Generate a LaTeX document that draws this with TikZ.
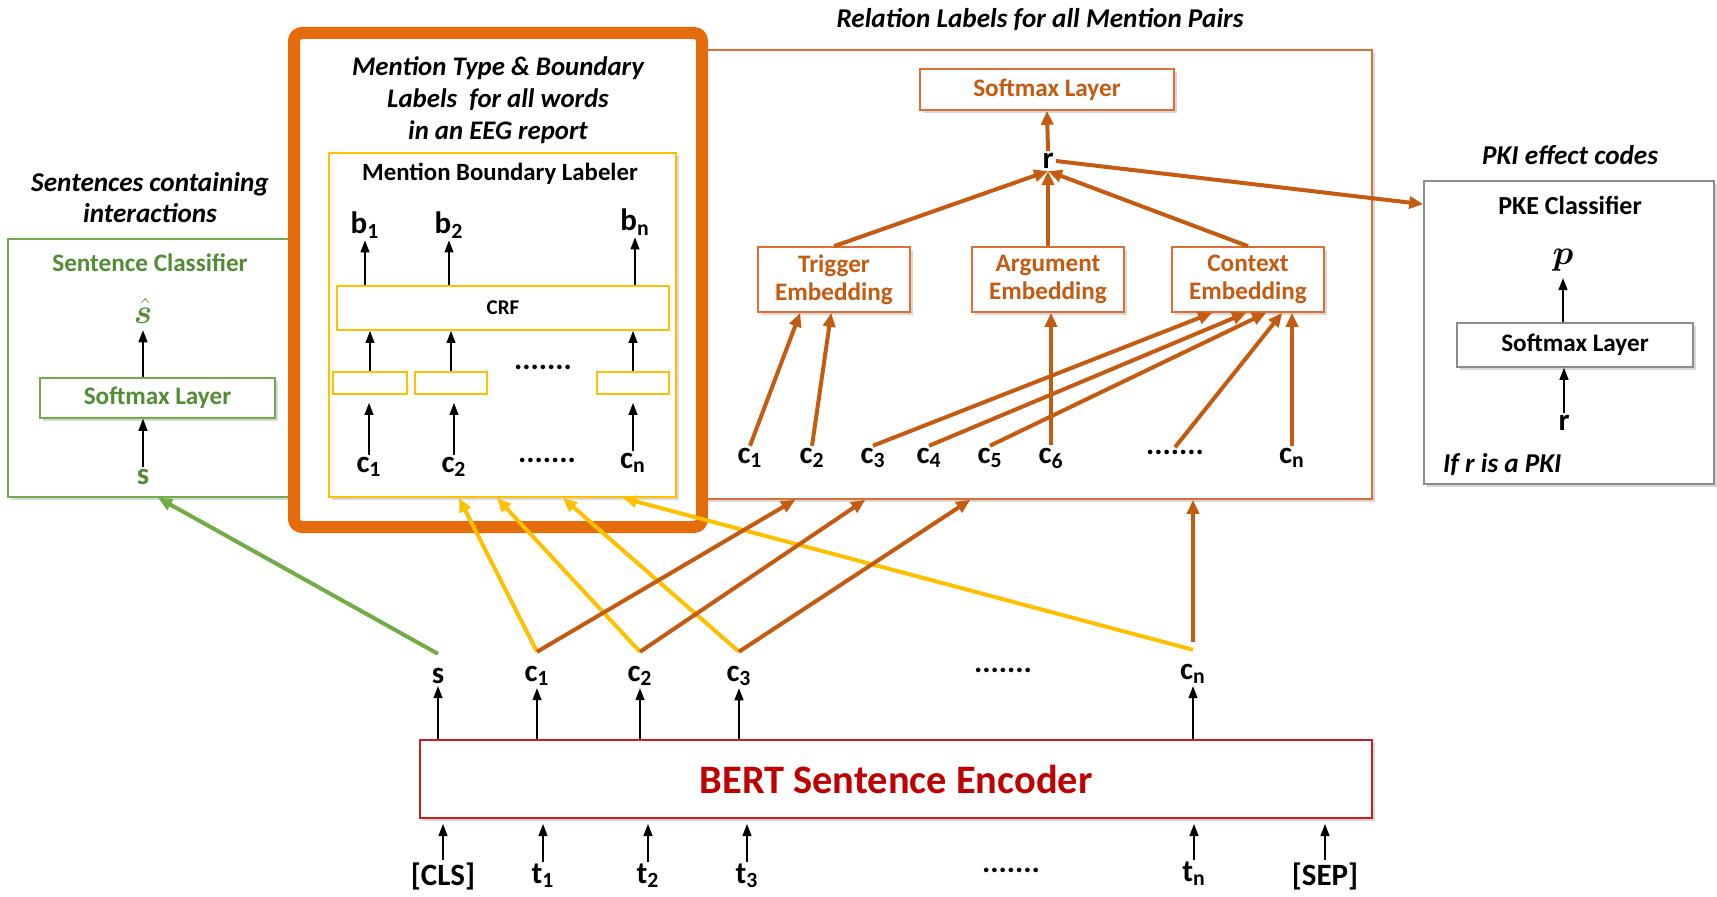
\documentclass[tikz,border=0pt]{standalone}
\usepackage{amsmath,bm}
\usepackage{fontspec}
\setmainfont{Carlito}
\usetikzlibrary{arrows.meta,calc,positioning,fit,shadows}
\definecolor{sentgreen}{RGB}{112,173,71}
\definecolor{sentgreentxt}{RGB}{84,140,53}
\definecolor{mentorange}{RGB}{228,108,10}
\definecolor{mentyellow}{RGB}{255,192,0}
\definecolor{relbrown}{RGB}{197,90,17}
\definecolor{relline}{RGB}{222,110,50}
\definecolor{bertred}{RGB}{192,0,0}
\definecolor{bertline}{RGB}{200,30,30}
\definecolor{pkegray}{RGB}{140,140,140}
\newcommand{\lsub}[2]{#1$_{\text{#2}}$}

\begin{document}
\begin{tikzpicture}[x=0.5pt,y=-0.5pt,>=Stealth,
  box/.style={draw,fill=white,inner sep=0pt,line width=0.8pt,
    drop shadow={opacity=0.3,shadow xshift=1.5pt,shadow yshift=-1.5pt}},
  lab/.style={font=\fontsize{15.5}{15.5}\selectfont\bfseries,inner sep=1pt},
  ttl/.style={font=\fontsize{13.6}{15.5}\selectfont\bfseries\itshape,align=center},
  hdr/.style={font=\fontsize{12.6}{14}\selectfont\bfseries,align=center},
  thin/.style={-{Triangle[length=6pt,width=4.5pt]},line width=0.6pt},
  fat/.style={-{Triangle[length=7pt,width=6pt]},line width=2pt}]
  \fill[white] (0,0) rectangle (1717,897);
  \useasboundingbox (0,0) rectangle (1717,897);

  % sentence classifier
  \node[box,draw=sentgreen,fit={(8,239) (300,497)}] (grnbox) {};
  \node[ttl] at (150,198) {Sentences containing\\interactions};
  \node[hdr,text=sentgreentxt] at (150,263) {Sentence Classifier};
  \node[font=\fontsize{18}{18}\selectfont,text=sentgreentxt] (shat) at (143,311) {$\bm{\hat{s}}$};
  \node[box,draw=sentgreen,fit={(40,378) (275,418)}] (grnsoft) {};
  \node[hdr,text=sentgreentxt] at (grnsoft) {Softmax Layer};
  \node[lab,text=sentgreentxt] (gs) at (143,477) {s};
  \draw[thin] (gs.north) -- (grnsoft.south -| gs.north);
  \draw[thin] (grnsoft.north -| shat.south) -- (shat.south);

  % relation box
  \node[box,draw=relline,fit={(700,50) (1372,499)}] (relbox) {};
  \node[ttl] at (1040,20) {Relation Labels for all Mention Pairs};
  \node[box,draw=relline,fit={(920,69) (1174,110)}] (relsoft) {};
  \node[hdr,text=relbrown] at (relsoft) {Softmax Layer};
  \node[lab] (r) at (1048,161) {r};
  \node[box,draw=relline,fit={(758,247) (910,312)}] (trig) {};
  \node[hdr,text=relbrown] at (trig) {Trigger\\Embedding};
  \node[box,draw=relline,fit={(972,247) (1124,312)}] (argu) {};
  \node[hdr,text=relbrown] at (argu) {Argument\\Embedding};
  \node[box,draw=relline,fit={(1172,247) (1324,312)}] (ctx) {};
  \node[hdr,text=relbrown] at (ctx) {Context\\Embedding};
  \node[lab] (rc1) at (750,458) {\lsub{c}{1}};
  \node[lab] (rc2) at (812,458) {\lsub{c}{2}};
  \node[lab] (rc3) at (873,458) {\lsub{c}{3}};
  \node[lab] (rc4) at (929,458) {\lsub{c}{4}};
  \node[lab] (rc5) at (990,458) {\lsub{c}{5}};
  \node[lab] (rc6) at (1051,458) {\lsub{c}{6}};
  \node[lab] (rdots) at (1175,452) {.......};
  \node[lab] (rcn) at (1292,458) {\lsub{c}{n}};
  \draw[fat,relbrown] (rc1.north) -- ($(trig.south west)+(43,0)$);
  \draw[fat,relbrown] (rc2.north) -- ($(trig.south west)+(74,0)$);
  \draw[fat,relbrown] (rc6.north) -- (rc6.north |- argu.south);
  \draw[fat,relbrown] (rc3.north) -- ($(ctx.south west)+(41,0)$);
  \draw[fat,relbrown] (rc4.north) -- ($(ctx.south west)+(75,0)$);
  \draw[fat,relbrown] (rc5.north) -- ($(ctx.south west)+(95,0)$);
  \draw[fat,relbrown] (rdots.north) -- ($(ctx.south west)+(111,0)$);
  \draw[fat,relbrown] (rcn.north) -- (rcn.north |- ctx.south);
  \draw[fat,relbrown] (trig.north) -- (r.south);
  \draw[fat,relbrown] (argu.north) -- (r.south);
  \draw[fat,relbrown] (ctx.north) -- (r.south);
  \draw[fat,relbrown] (r.north) -- (relsoft.south);

  % mention boundary labeler
  \node[box,draw=mentorange,line width=6pt,rounded corners=4pt,fit={(294,33) (702,527)}] (mentbox) {};
  \node[ttl,font=\fontsize{13.4}{16}\selectfont\bfseries\itshape] at (498,100)
    {Mention Type \& Boundary\\Labels~ for all words\\in an EEG report};
  \node[box,draw=mentyellow,line width=1pt,fit={(329,153) (676,497)}] (ylwbox) {};
  \node[hdr,font=\fontsize{12.4}{14}\selectfont\bfseries] at (500,174) {Mention Boundary Labeler};
  \node[lab] (b1) at (365,225) {\lsub{b}{1}};
  \node[lab] (b2) at (449,225) {\lsub{b}{2}};
  \node[lab] (bn) at (635,222) {\lsub{b}{n}};
  \node[draw=mentyellow,line width=1pt,fit={(337,286) (669,330)},inner sep=0pt] (crf) {};
  \node[font=\fontsize{10.5}{10}\selectfont\bfseries] at (crf) {CRF};
  \node[draw=mentyellow,line width=1pt,fit={(333,372) (407,394)},inner sep=0pt] (cell1) {};
  \node[draw=mentyellow,line width=1pt,fit={(415,372) (487,394)},inner sep=0pt] (cell2) {};
  \node[draw=mentyellow,line width=1pt,fit={(597,372) (669,394)},inner sep=0pt] (celln) {};
  \node[lab] (ydots) at (543,367) {.......};
  \node[lab] (yc1) at (369,467) {\lsub{c}{1}};
  \node[lab] (yc2) at (454,467) {\lsub{c}{2}};
  \node[lab] (ydots2) at (547,460) {.......};
  \node[lab] (ycn) at (633,463) {\lsub{c}{n}};
  \draw[thin] (b1.south |- crf.north) -- (b1.south);
  \draw[thin] (b2.south |- crf.north) -- (b2.south);
  \draw[thin] (bn.south |- crf.north) -- (bn.south);
  \draw[thin] (cell1.north) -- (cell1.north |- crf.south);
  \draw[thin] (cell2.north) -- (cell2.north |- crf.south);
  \draw[thin] (celln.north) -- (celln.north |- crf.south);
  \draw[thin,shorten >=4pt] (yc1.north) -- (yc1.north |- cell1.south);
  \draw[thin,shorten >=4pt] (yc2.north) -- (yc2.north |- cell2.south);
  \draw[thin,shorten >=4pt] (ycn.north) -- (ycn.north |- celln.south);

  % PKE classifier
  \node[box,draw=pkegray,fit={(1424,181) (1714,484)}] (pkebox) {};
  \node[ttl] at (1570,155) {PKI effect codes};
  \node[hdr,font=\fontsize{13}{14}\selectfont\bfseries] at (1570,205) {PKE Classifier};
  \node[font=\fontsize{18}{18}\selectfont] (p) at (1563,260) {$\bm{p}$};
  \node[box,draw=pkegray,fit={(1457,323) (1693,367)}] (pkesoft) {};
  \node[hdr] at (pkesoft) {Softmax Layer};
  \node[lab] (r2) at (1564,423) {r};
  \node[ttl,anchor=west] at (1436,465) {If r is a PKI};
  \draw[thin] (pkesoft.north -| p.south) -- (p.south);
  \draw[thin] (r2.north) -- (r2.north |- pkesoft.south);
  \draw[fat,relbrown] (r.east) -- ($(pkebox.north west)+(0,24)$);

  % BERT encoder
  \node[box,draw=bertline,line width=1pt,fit={(420,740) (1372,818)}] (bert) {};
  \node[font=\fontsize{20.2}{20}\selectfont\bfseries,text=bertred] at (bert) {BERT Sentence Encoder};
  \node[lab] (bs) at (438,676) {s};
  \node[lab] (bc1) at (537,676) {\lsub{c}{1}};
  \node[lab] (bc2) at (640,676) {\lsub{c}{2}};
  \node[lab] (bc3) at (739,676) {\lsub{c}{3}};
  \node[lab] (bdots) at (1003,670) {.......};
  \node[lab] (bcn) at (1193,674) {\lsub{c}{n}};
  \node[lab] (cls) at (443,876) {[CLS]};
  \node[lab] (t1) at (543,876) {\lsub{t}{1}};
  \node[lab] (t2) at (648,876) {\lsub{t}{2}};
  \node[lab] (t3) at (747,876) {\lsub{t}{3}};
  \node[lab] (tdots) at (1011,870) {.......};
  \node[lab] (tn) at (1194,874) {\lsub{t}{n}};
  \node[lab] (sep) at (1325,876) {[SEP]};
  \foreach \o in {bs,bc1,bc2,bc3,bcn}
    \draw[thin] (bert.north -| \o.south) -- (\o.south);
  \foreach \i in {cls,t1,t2,t3,tn,sep}
    \draw[thin] (\i.north |- bert.south) ++(0,5) coordinate (tmp) (\i.north) -- (tmp);

  % encoder outputs to the three tasks
  \draw[fat,sentgreen] ([yshift=6pt]bs.north) -- ($(grnbox.south west)+(151,0)$);
  \draw[fat,mentyellow] ([yshift=6pt]bc1.north) -- ($(ylwbox.south west)+(131,0)$);
  \draw[fat,mentyellow] ([yshift=6pt]bc2.north) -- ($(ylwbox.south west)+(169,0)$);
  \draw[fat,mentyellow] ([yshift=6pt]bc3.north) -- ($(ylwbox.south west)+(235,0)$);
  \draw[fat,mentyellow] ([yshift=6pt]bcn.north) -- ($(ylwbox.south west)+(295,0)$);
  \draw[fat,relbrown] ([yshift=6pt]bc1.north) -- ($(relbox.south west)+(96,0)$);
  \draw[fat,relbrown] ([yshift=6pt]bc2.north) -- ($(relbox.south west)+(166,0)$);
  \draw[fat,relbrown] ([yshift=6pt]bc3.north) -- ($(relbox.south west)+(271,0)$);
  \draw[fat,relbrown] ([yshift=10pt]bcn.north) -- (bcn.north |- relbox.south);
\end{tikzpicture}
\end{document}
